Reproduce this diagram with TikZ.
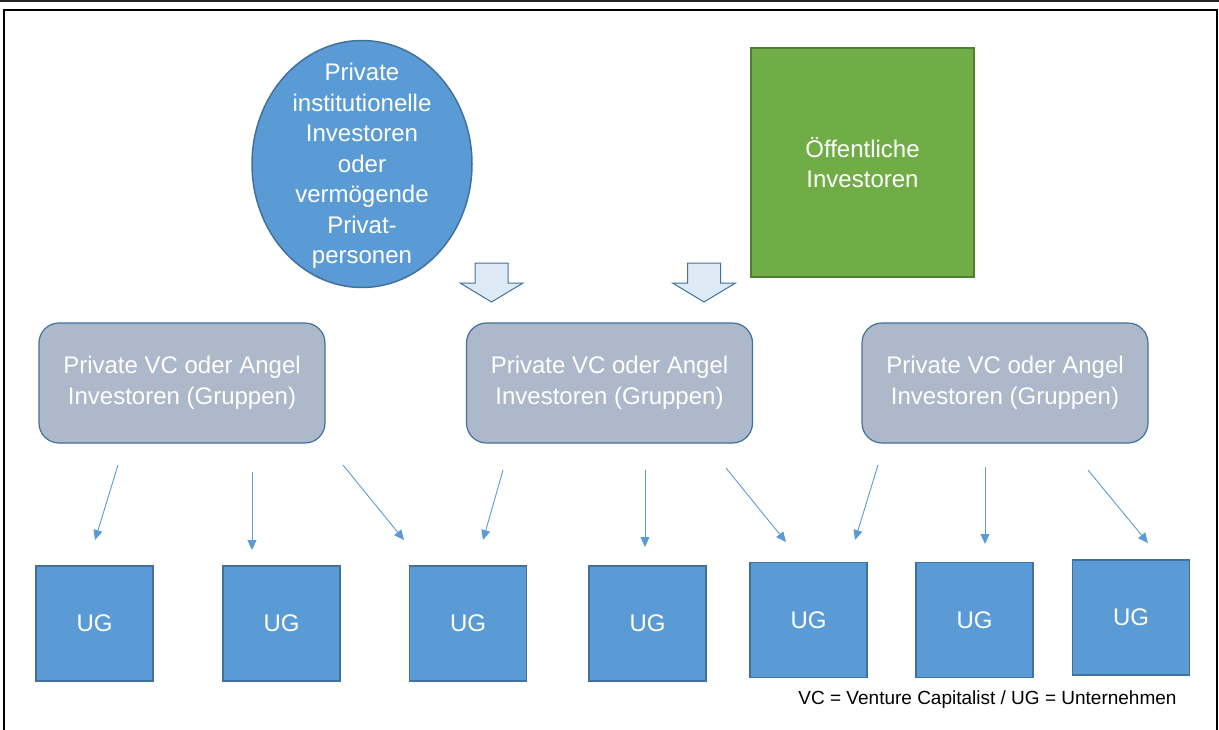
\documentclass[tikz,border=0pt]{standalone}
\usepackage{fontspec}
\setmainfont{Liberation Sans}
\usetikzlibrary{calc,positioning,shapes.geometric,arrows.meta}
\definecolor{ugblue}{HTML}{5B9BD5}
\definecolor{ugedge}{HTML}{41719C}
\definecolor{oeffgreen}{HTML}{70AD47}
\definecolor{oeffedge}{HTML}{507E32}
\definecolor{vcgray}{HTML}{ADB9CA}
\definecolor{pfeilfill}{HTML}{DEEBF7}

\begin{document}
\begin{tikzpicture}[x=1pt, y=-1pt
        , every node/.style={font=\fontsize{24}{30.5}\selectfont, text=white, align=center, inner sep=0pt}
        , ug/.style={draw=ugedge, line width=1.5pt, fill=ugblue, minimum width=117pt, minimum height=115pt}
        , vc/.style={draw=ugedge, line width=1.2pt, fill=vcgray, rounded corners=20pt, minimum width=286pt, minimum height=120pt}
        , pfeil/.style={ugblue, line width=0.9pt, -{Triangle[length=10pt,width=9pt]}}
        ]
        \useasboundingbox (0,0) rectangle (1219,729);
        \draw[line width=2pt, black!85] (0,0.5) -- (1219,0.5);
        \draw[line width=1.5pt] (4,10) rectangle (1217,745);

        \draw[ugedge, line width=1.5pt, fill=ugblue] (362,164) ellipse [x radius=110pt, y radius=123.5pt];
        \node (priv) at (362,166)
            {Private\\institutionelle\\Investoren\\oder\\verm\"ogende\\Privat-\\personen};
        \node[draw=oeffedge, line width=1.2pt, fill=oeffgreen, minimum width=223pt, minimum height=229pt] (oeff) at (862.5,162.5)
            {\"Offentliche\\Investoren};

        % block arrows
        \foreach \px in {491.5,704}
            \draw[draw=ugedge, fill=pfeilfill, line width=1pt] (\px-16.5,263) -- (\px+16.5,263) -- (\px+16.5,283)
                -- (\px+31.5,283) -- (\px,302) -- (\px-31.5,283) -- (\px-16.5,283) -- cycle;

        \node[vc] (vc1) at (182,383) {Private VC oder Angel\\Investoren (Gruppen)};
        \node[vc] (vc2) at (609.5,383) {Private VC oder Angel\\Investoren (Gruppen)};
        \node[vc] (vc3) at (1005,383) {Private VC oder Angel\\Investoren (Gruppen)};

        \node[ug] (ug1) at (94.5,623.5) {UG};
        \node[ug] (ug2) at (281.5,623.5) {UG};
        \node[ug] (ug3) at (468,623.5) {UG};
        \node[ug] (ug4) at (647.5,623.5) {UG};
        \node[ug] (ug5) at (808.5,620) {UG};
        \node[ug] (ug6) at (974.5,620) {UG};
        \node[ug] (ug7) at (1131,617.5) {UG};

        \foreach \xa/\ya/\xb/\yb [count=\i] in {118/465/95/540, 252/472/252/550, 343/465/404/540,
                503/470/483/540, 645/470/645/547, 726/468/786/542,
                878/465/855/540, 985/467/985/544, 1088/470/1148/543}
        {
            \coordinate (von\i) at (\xa,\ya);
            \coordinate (nach\i) at (\xb,\yb);
            \draw[pfeil] (von\i) -- (nach\i);
        }

        \node[text=black, font=\fontsize{19}{22}\selectfont] (legende) at (987.5,700) {VC = Venture Capitalist / UG = Unternehmen};
    \end{tikzpicture}
\end{document}
